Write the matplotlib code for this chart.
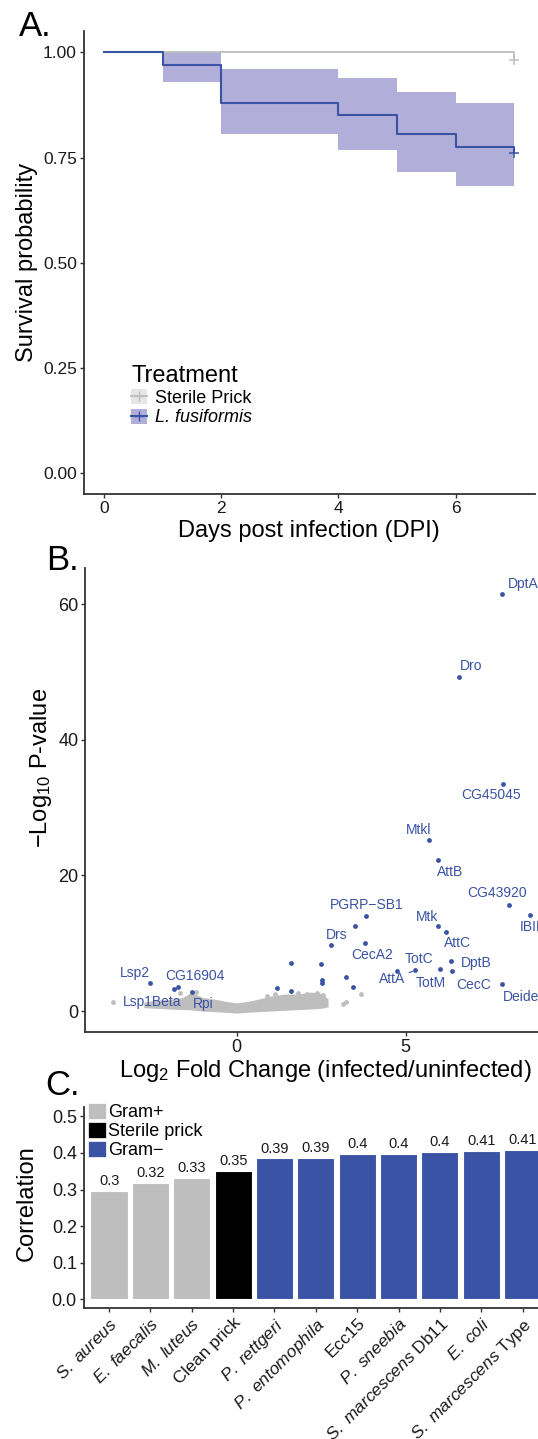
import numpy as np
import matplotlib
matplotlib.use("Agg")
import matplotlib.pyplot as plt
from matplotlib.patches import Patch
from matplotlib.lines import Line2D

plt.rcParams['font.family'] = ['Liberation Sans', 'DejaVu Sans']
plt.rcParams['mathtext.fontset'] = 'custom'
plt.rcParams['mathtext.rm'] = 'Liberation Sans'
plt.rcParams['mathtext.it'] = 'Liberation Sans:italic'

# ---------------- data: panel A (Kaplan-Meier) ----------------
days = [0, 1, 2, 4, 5, 6, 7]
surv_fus = [1.0, 0.97, 0.88, 0.85, 0.805, 0.775, 0.76]
ci_low_fus = [1.0, 0.93, 0.805, 0.768, 0.715, 0.682, 0.682]
ci_high_fus = [1.0, 1.0, 0.96, 0.939, 0.905, 0.88, 0.88]
days_sterile = [0, 7]
surv_sterile = [1.0, 0.982]

# ---------------- data: panel B (volcano) ----------------
gene_names = ['DptA', 'Dro', 'CG45045', 'Mtkl', 'AttB', 'CG43920', 'IBIN', 'Mtk',
              'AttC', 'PGRP\u2212SB1', 'Drs', 'CecA2', 'TotC', 'AttA', 'TotM', 'DptB',
              'CecC', 'Deide', 'Lsp2', 'CG16904', 'Rpi']
gene_lfc = [7.84, 6.58, 7.87, 5.70, 5.96, 8.04, 8.68, 5.94,
            6.19, 3.83, 2.80, 3.78, 4.73, 5.28, 6.00, 6.34,
            6.36, 7.84, -2.57, -1.74, -1.33]
gene_logp = [61.5, 49.3, 33.5, 25.2, 22.3, 15.6, 14.1, 12.5,
             11.7, 14.0, 9.7, 10.0, 5.9, 6.0, 6.2, 7.4,
             5.9, 4.0, 4.1, 3.5, 2.76]
label_x = [8.48, 6.93, 7.51, 5.37, 6.31, 7.69, 8.78, 5.62,
           6.53, 3.85, 2.96, 4.02, 5.40, 4.59, 5.75, 7.07,
           7.02, 8.41, -3.01, -1.23, -0.99]
label_y = [63.0, 50.9, 31.8, 26.7, 20.5, 17.4, 12.4, 13.9,
           10.0, 15.6, 11.2, 8.3, 7.7, 4.7, 4.2, 7.1,
           3.9, 2.1, 5.6, 5.2, 1.1]
segment_genes = ['AttA']

other_sig_lfc = [-1.86, 1.18, 1.61, 1.60, 2.49, 2.51, 2.53, 3.23, 3.45, 3.51]
other_sig_logp = [3.2, 3.4, 2.9, 7.1, 7.0, 4.6, 4.2, 5.0, 3.5, 12.6]

# non-significant genes: dense cloud (outline) plus outliers
cloud_lfc = [-2.75, -2.4, -2.0, -1.6, -1.4, -1.25, -1.0, -0.6, -0.3, 0.0,
             0.3, 0.6, 1.0, 1.4, 1.8, 2.2, 2.5, 2.7]
cloud_top = [1.3, 1.6, 1.7, 2.0, 2.6, 2.5, 2.0, 1.7, 1.4, 1.2,
             1.4, 1.7, 2.2, 2.5, 2.5, 2.8, 2.6, 1.8]
cloud_bottom = [0.5, 0.4, 0.3, 0.2, 0.2, 0.1, 0.0, -0.1, -0.2, -0.3,
                -0.2, -0.1, 0.0, 0.1, 0.2, 0.3, 0.4, 0.6]
ns_lfc = [-3.65, -1.68, -1.2, 0.9, 1.13, 1.8, 2.09, 2.37, 2.55, 3.67, 3.23, 3.15]
ns_logp = [1.28, 2.6, 2.8, 2.2, 2.5, 2.6, 2.5, 2.6, 2.3, 2.5, 1.4, 1.0]
ns_label = 'Lsp1Beta'
ns_label_x, ns_label_y = -2.51, 1.3

# ---------------- data: panel C (correlation bars) ----------------
bar_names = ['S. aureus', 'E. faecalis', 'M. luteus', 'Clean prick', 'P. rettgeri',
             'P. entomophila', 'Ecc15', 'P. sneebia', 'S. marcescens Db11',
             'E. coli', 'S. marcescens Type']
bar_tick_labels = [r'$\it{S.\ aureus}$', r'$\it{E.\ faecalis}$', r'$\it{M.\ luteus}$',
                   'Clean prick', r'$\it{P.\ rettgeri}$', r'$\it{P.\ entomophila}$',
                   'Ecc15', r'$\it{P.\ sneebia}$', r'$\it{S.\ marcescens}$ Db11',
                   r'$\it{E.\ coli}$', r'$\it{S.\ marcescens}$ Type']
bar_values = [0.296, 0.318, 0.332, 0.350, 0.385, 0.387, 0.397, 0.398, 0.403, 0.406, 0.407]
bar_groups = ['Gram+', 'Gram+', 'Gram+', 'Sterile prick', 'Gram\u2212', 'Gram\u2212',
              'Gram\u2212', 'Gram\u2212', 'Gram\u2212', 'Gram\u2212', 'Gram\u2212']
group_order = ['Gram+', 'Sterile prick', 'Gram\u2212']

# ---------------- style ----------------
BLUE = '#3A53A4'
GREY = '#BEBEBE'
CI_FILL = '#B1AFD9'
AXC = '#333333'
group_colors = {'Gram+': GREY, 'Sterile prick': 'black', 'Gram\u2212': BLUE}

W, H = 538, 1439
fig = plt.figure(figsize=(W / 100, H / 100), dpi=100)


def px_box(left, top, right, bottom):
    return [left / W, 1 - bottom / H, (right - left) / W, (bottom - top) / H]


def classic(ax, size):
    for s in ['top', 'right']:
        ax.spines[s].set_visible(False)
    for s in ['left', 'bottom']:
        ax.spines[s].set_color(AXC)
        ax.spines[s].set_linewidth(1.3)
    ax.tick_params(length=3, width=1, color=AXC, labelcolor='#1A1A1A',
                   labelsize=size, pad=2)


# ---------------- panel A ----------------
axA = fig.add_axes(px_box(83.7, 31.3, 534.7, 494.3))
axA.fill_between(days, ci_low_fus, ci_high_fus, step='post', color=CI_FILL, lw=0)
axA.step(days_sterile, surv_sterile, where='post', color=GREY, lw=1.3)
axA.step(days, surv_fus, where='post', color=BLUE, lw=1.5)
axA.plot(days_sterile[-1], surv_sterile[-1], marker='+', color=GREY, ms=7, mew=1.1)
axA.plot(days[-1], surv_fus[-1], marker='+', color=BLUE, ms=7, mew=1.1)
axA.set_xlim(-0.35, 7.35)
axA.set_ylim(-0.05, 1.05)
axA.set_xticks([0, 2, 4, 6])
axA.set_yticks([0, 0.25, 0.5, 0.75, 1.0])
axA.set_yticklabels(['0.00', '0.25', '0.50', '0.75', '1.00'])
classic(axA, 12.5)
axA.set_xlabel('Days post infection (DPI)', fontsize=17)
axA.set_ylabel('Survival probability', fontsize=17)
axA.xaxis.set_label_coords(0.5, -0.055)
axA.yaxis.set_label_coords(-0.101, 0.5)

hA = [(Patch(fc='#E6E6E6', lw=0), Line2D([], [], color=GREY, marker='+', ms=7, lw=1.3)),
      (Patch(fc=CI_FILL, lw=0), Line2D([], [], color=BLUE, marker='+', ms=7, lw=1.5))]
legA = axA.legend(hA, ['Sterile Prick', 'L. fusiformis'], title='Treatment',
                  loc='upper left', bbox_to_anchor=(0.105, 0.28), frameon=False,
                  fontsize=13, title_fontsize=17, alignment='left',
                  handlelength=0.9, handleheight=0.9, handletextpad=0.4,
                  labelspacing=0.12, borderpad=0, borderaxespad=0)
legA.get_texts()[1].set_fontstyle('italic')
fig.text(19 / W, 1 - 36 / H, 'A.', fontsize=25, ha='left', va='baseline')

# ---------------- panel B ----------------
axB = fig.add_axes(px_box(85.3, 568.3, 565, 1032.3))
axB.fill_between(cloud_lfc, cloud_bottom, cloud_top, color=GREY, lw=0)
axB.scatter(ns_lfc, ns_logp, s=12, color=GREY, lw=0)
axB.scatter(other_sig_lfc, other_sig_logp, s=12, color=BLUE, lw=0, zorder=3)
axB.scatter(gene_lfc, gene_logp, s=12, color=BLUE, lw=0, zorder=3)
for name, x, y, lx, ly in zip(gene_names, gene_lfc, gene_logp, label_x, label_y):
    arrow = dict(arrowstyle='-', color=BLUE, lw=0.8, shrinkA=1, shrinkB=2) \
        if name in segment_genes else None
    axB.annotate(name, (x, y), xytext=(lx, ly), ha='center', va='center',
                 fontsize=10, color=BLUE, arrowprops=arrow, annotation_clip=False)
axB.text(ns_label_x, ns_label_y, ns_label, ha='center', va='center',
         fontsize=10, color=BLUE)
axB.set_xlim(-4.48, 9.71)
axB.set_ylim(-3.14, 65.3)
axB.set_xticks([0, 5])
axB.set_yticks([0, 20, 40, 60])
classic(axB, 13)
axB.set_xlabel('Log$_2$ Fold Change (infected/uninfected)', fontsize=17)
axB.set_ylabel('\u2212Log$_{10}$ P-value', fontsize=17)
axB.xaxis.set_label_coords(0.5, -0.055)
axB.yaxis.set_label_coords(-0.066, 0.57)
fig.text(46 / W, 1 - 570 / H, 'B.', fontsize=25, ha='left', va='baseline')

# ---------------- panel C ----------------
axC = fig.add_axes(px_box(83.7, 1107.3, 560, 1308.3))
xpos = np.arange(len(bar_names))
colors = [group_colors[g] for g in bar_groups]
axC.bar(xpos, bar_values, width=0.9, color=colors, edgecolor='white', lw=0.8)
for x, v in zip(xpos, bar_values):
    axC.text(x, v + 0.008, '{:g}'.format(round(v, 2)), ha='center', va='bottom',
             fontsize=10.5, color='#1A1A1A')
axC.set_xlim(-0.614, -0.614 + (560 - 83.7) / 41.35)
axC.set_ylim(-0.025, 0.525)
axC.set_xticks(xpos)
axC.set_xticklabels(bar_tick_labels, rotation=45, ha='right', rotation_mode='anchor')
axC.set_yticks([0, 0.1, 0.2, 0.3, 0.4, 0.5])
classic(axC, 13)
axC.tick_params(axis='x', labelsize=12.5)
axC.set_ylabel('Correlation', fontsize=17)
axC.yaxis.set_label_coords(-0.096, 0.521)
hC = [Patch(fc=group_colors[g], ec='white', lw=0.5) for g in group_order]
axC.legend(hC, group_order, loc='upper left', bbox_to_anchor=(0.01, 1.02),
           frameon=False, fontsize=13, handlelength=0.95, handleheight=0.95,
           handletextpad=0.15, labelspacing=0.05, borderpad=0, borderaxespad=0)
fig.text(45 / W, 1 - 1095 / H, 'C.', fontsize=25, ha='left', va='baseline')

fig.savefig('out.png', dpi=100)
